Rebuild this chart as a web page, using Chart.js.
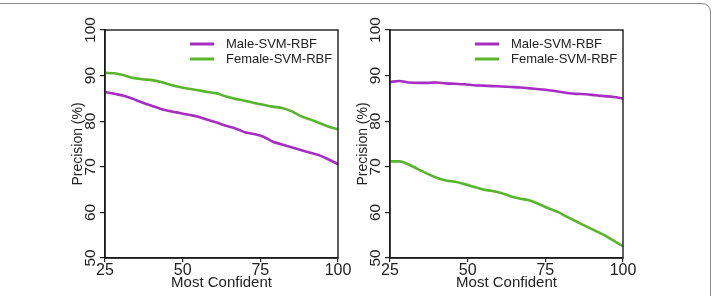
<!DOCTYPE html>
<html>
<head>
<meta charset="utf-8">
<script src="https://cdn.jsdelivr.net/npm/chart.js@4"></script>
<style>
  html, body { margin: 0; padding: 0; background: #fff; }
  #wrap { position: relative; width: 715px; height: 296px; overflow: hidden; background: #fff; }
  #frame { position: absolute; left: -20px; top: 3px; right: 4px; bottom: -20px;
           border: 1.5px solid #8a8a8a; border-radius: 9px; }
  canvas { position: absolute; top: 0; }
  #c1 { left: 0; }
  #c2 { left: 345px; }
</style>
</head>
<body>
<div id="wrap">
  <div id="frame"></div>
  <canvas id="c1" width="355" height="296"></canvas>
  <canvas id="c2" width="370" height="296"></canvas>
</div>
<script>
// ---- data ----
const xValues = [25,28,31,34,37,40,43,46,49,52,55,58,61,64,67,70,73,76,79,82,85,88,91,94,97,100];
const seriesNames = ['Male-SVM-RBF', 'Female-SVM-RBF'];
const leftMale   = [86.4,86.0,85.6,84.9,84.1,83.4,82.7,82.2,81.8,81.4,81.0,80.3,79.7,79.0,78.4,77.6,77.2,76.6,75.5,74.9,74.3,73.7,73.1,72.5,71.6,70.6];
const leftFemale = [90.6,90.5,90.1,89.5,89.2,89.0,88.6,88.0,87.5,87.1,86.8,86.4,86.1,85.4,84.9,84.5,84.0,83.6,83.2,82.9,82.2,81.1,80.4,79.6,78.8,78.2];
const rightMale   = [88.6,88.8,88.5,88.4,88.4,88.5,88.3,88.2,88.1,87.9,87.8,87.7,87.6,87.5,87.4,87.2,87.0,86.8,86.5,86.2,86.0,85.9,85.7,85.5,85.3,85.0];
const rightFemale = [71.2,71.2,70.5,69.5,68.5,67.6,67.0,66.7,66.2,65.6,65.0,64.7,64.2,63.5,63.0,62.6,61.8,60.9,60.1,59.0,58.0,57.0,56.0,55.0,53.8,52.6];
const xTicks = [25, 50, 75, 100];
const yTicks = [50, 60, 70, 80, 90, 100];
const xTitle = 'Most Confident';
const yTitle = 'Precision (%)';

const COLORS = ['#a62ec2', '#58b52c'];
const FONT = '"Liberation Sans", Arial, Helvetica, sans-serif';

function pts(ys) { return xValues.map((x, i) => ({x: x, y: ys[i]})); }

const customPlugin = {
  id: 'custom',
  afterDraw(chart) {
    const ctx = chart.ctx;
    const a = chart.chartArea;
    const ys = chart.scales.y;
    ctx.save();
    // box
    ctx.strokeStyle = '#1a1a1a';
    ctx.lineWidth = 1.4;
    ctx.strokeRect(a.left, a.top, a.right - a.left, a.bottom - a.top);
    // y tick labels rotated
    ctx.fillStyle = '#222';
    ctx.font = '15.5px ' + FONT;
    ctx.textAlign = 'center';
    ctx.textBaseline = 'alphabetic';
    yTicks.forEach(v => {
      const py = ys.getPixelForValue(v);
      ctx.save();
      ctx.translate(a.left - 10, py);
      ctx.rotate(-Math.PI / 2);
      ctx.fillText(String(v), 0, 0);
      ctx.restore();
    });
    // y title
    ctx.font = '14px ' + FONT;
    ctx.save();
    ctx.translate(a.left - 23, (a.top + a.bottom) / 2);
    ctx.rotate(-Math.PI / 2);
    ctx.fillText(yTitle, 0, 0);
    ctx.restore();
    // legend
    ctx.font = '13px ' + FONT;
    ctx.textAlign = 'left';
    ctx.textBaseline = 'middle';
    chart.data.datasets.forEach((ds, i) => {
      const y = a.top + 14 + i * 15;
      const x1 = a.right - 148;
      ctx.strokeStyle = ds.borderColor;
      ctx.lineWidth = 3;
      ctx.beginPath();
      ctx.moveTo(x1, y);
      ctx.lineTo(x1 + 24, y);
      ctx.stroke();
      ctx.fillStyle = '#222';
      ctx.fillText(ds.label, x1 + 36, y);
    });
    ctx.restore();
  }
};

function makeChart(id, male, female, yWidth, padRight) {
  return new Chart(document.getElementById(id), {
    type: 'line',
    data: {
      datasets: [
        { label: seriesNames[0], data: pts(male), borderColor: COLORS[0], borderWidth: 2.6,
          pointRadius: 0, cubicInterpolationMode: 'monotone', fill: false },
        { label: seriesNames[1], data: pts(female), borderColor: COLORS[1], borderWidth: 2.6,
          pointRadius: 0, cubicInterpolationMode: 'monotone', fill: false }
      ]
    },
    options: {
      responsive: false,
      animation: false,
      devicePixelRatio: 1,
      layout: { padding: { left: 0, top: 30, right: padRight, bottom: 0 } },
      plugins: { legend: { display: false }, tooltip: { enabled: false } },
      scales: {
        x: {
          type: 'linear', min: 25, max: 100,
          afterBuildTicks(s) { s.ticks = xTicks.map(v => ({value: v})); },
          afterFit(s) { s.height = 38; },
          ticks: { font: { size: 16, family: FONT }, color: '#222', padding: -1, maxRotation: 0, minRotation: 0 },
          grid: { drawOnChartArea: false, tickLength: 4, color: '#1a1a1a', lineWidth: 1.2 },
          border: { display: true, color: '#1a1a1a', width: 1.4 },
          title: { display: true, text: xTitle, font: { size: 15, family: FONT }, color: '#222',
                   padding: { top: 0, bottom: 4.5 } }
        },
        y: {
          type: 'linear', min: 50, max: 100,
          afterBuildTicks(s) { s.ticks = yTicks.map(v => ({value: v})); },
          afterFit(s) { s.width = yWidth; },
          ticks: { display: false },
          grid: { drawOnChartArea: false, tickLength: 5, color: '#1a1a1a', lineWidth: 1.2 },
          border: { display: true, color: '#1a1a1a', width: 1.4 }
        }
      }
    },
    plugins: [customPlugin]
  });
}

makeChart('c1', leftMale, leftFemale, 105, 17);
makeChart('c2', rightMale, rightFemale, 45, 92);
</script>
</body>
</html>
